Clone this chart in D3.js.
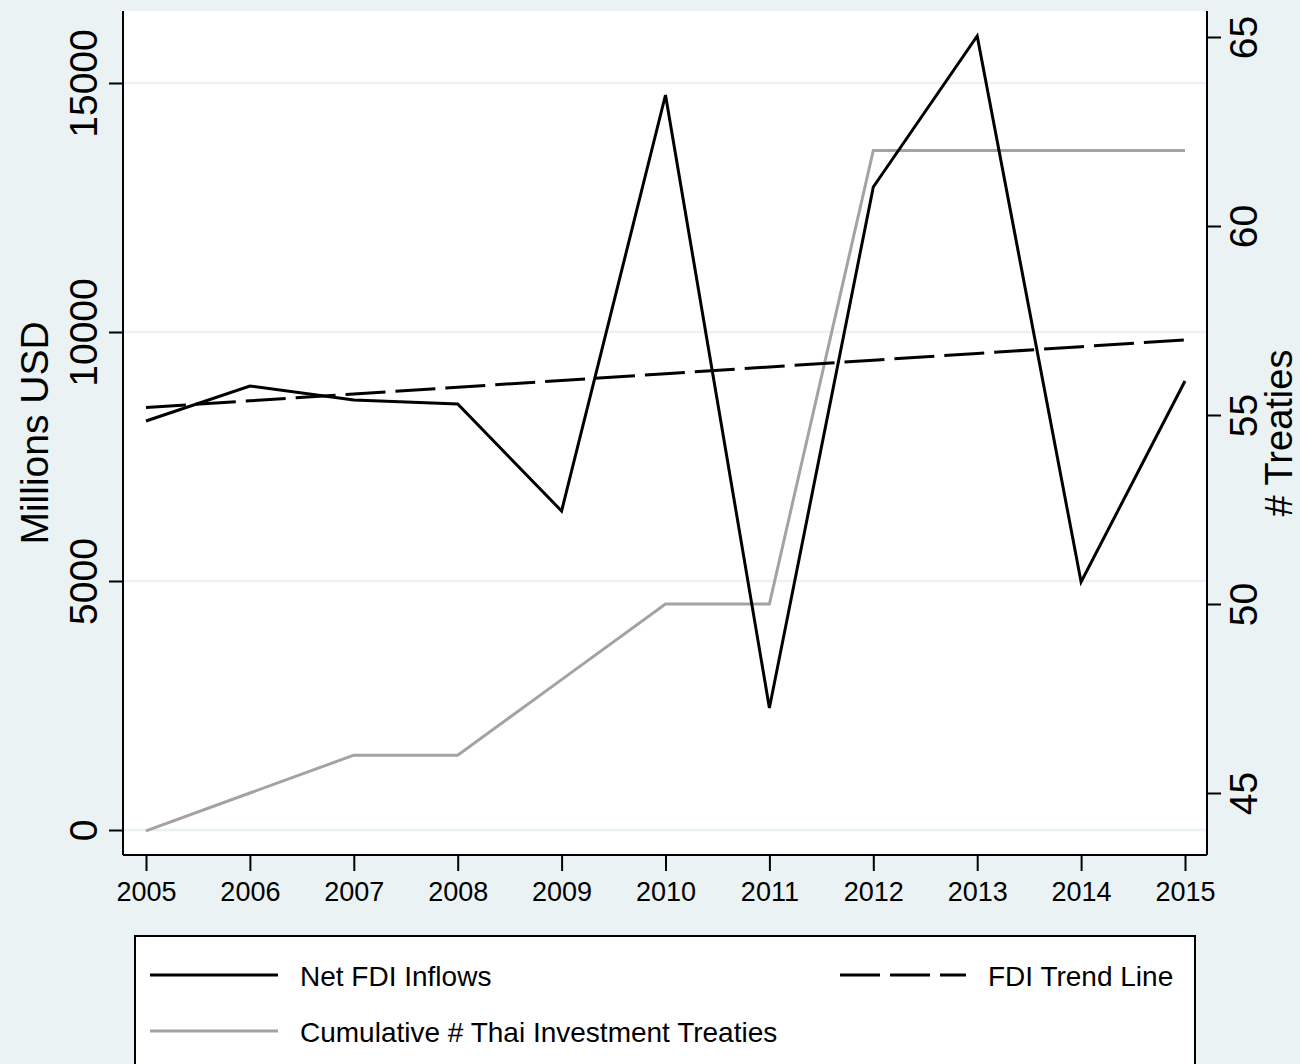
<!DOCTYPE html>
<html>
<head>
<meta charset="utf-8">
<script src="https://cdn.jsdelivr.net/npm/d3@7"></script>
<style>
  html, body { margin: 0; padding: 0; background: #eaf2f3; }
  svg { display: block; }
  text { font-family: "Liberation Sans", Arial, Helvetica, sans-serif; fill: #000; }
</style>
</head>
<body>
<svg id="chart" width="1300" height="1064"></svg>
<script>
// Thailand: net FDI inflows (millions USD) and cumulative investment treaties
const years = [2005, 2006, 2007, 2008, 2009, 2010, 2011, 2012, 2013, 2014, 2015];
const fdiInflows = [8213, 8916, 8635, 8554, 6406, 14759, 2450, 12912, 15944, 4980, 9016];
const treaties = [44, 45, 46, 46, 48, 50, 50, 62, 62, 62, 62];

const leftTicks = [0, 5000, 10000, 15000];
const rightTicks = [45, 50, 55, 60, 65];

const legendLabels = {
  fdi: "Net FDI Inflows",
  trend: "FDI Trend Line",
  treaties: "Cumulative # Thai Investment Treaties"
};

// Least-squares trend of FDI on year
const meanX = d3.mean(years), meanY = d3.mean(fdiInflows);
const slope = d3.sum(years, (x, i) => (x - meanX) * (fdiInflows[i] - meanY)) /
              d3.sum(years, x => (x - meanX) ** 2);
const trend = years.map(x => meanY + slope * (x - meanX));

const svg = d3.select("#chart");
const plot = { left: 123, right: 1207, top: 11, bottom: 855 };

const x = d3.scaleLinear().domain([2005, 2015]).range([146, 1185]);
const yL = d3.scaleLinear().domain([0, 15000]).range([830, 83]);
const yR = d3.scaleLinear().domain([45, 65]).range([793, 37]);

// Plot region
svg.append("rect")
  .attr("x", plot.left).attr("y", plot.top)
  .attr("width", plot.right - plot.left).attr("height", plot.bottom - plot.top)
  .attr("fill", "#fff");

// Grid lines at left-axis ticks
svg.append("g").selectAll("line").data(leftTicks).join("line")
  .attr("x1", plot.left).attr("x2", plot.right)
  .attr("y1", d => yL(d)).attr("y2", d => yL(d))
  .attr("stroke", "#eaf2f3").attr("stroke-width", 2.5);

// Axes
const axisStyle = g => {
  g.select(".domain").attr("stroke", "#000").attr("stroke-width", 2);
  g.selectAll(".tick line").attr("stroke", "#000").attr("stroke-width", 2);
  g.selectAll("text").attr("fill", "#000").style("font-family", "'Liberation Sans', Arial, sans-serif");
};

svg.append("g")
  .attr("transform", `translate(0,${plot.bottom})`)
  .call(d3.axisBottom(x).tickValues(years).tickFormat(d3.format("d"))
    .tickSize(16).tickPadding(6).tickSizeOuter(0))
  .call(g => g.select(".domain").attr("d", `M${plot.left},0H${plot.right}`))
  .call(axisStyle)
  .call(g => g.selectAll("text").attr("font-size", 27).attr("dy", "0.9em"));

svg.append("g")
  .attr("transform", `translate(${plot.left},0)`)
  .call(d3.axisLeft(yL).tickValues(leftTicks).tickFormat(d3.format("d"))
    .tickSize(14).tickPadding(0).tickSizeOuter(0))
  .call(g => g.select(".domain").attr("d", `M0,${plot.top}V${plot.bottom}`))
  .call(axisStyle)
  .call(g => g.selectAll("text")
    .attr("font-size", 39)
    .attr("x", 0).attr("dy", 0)
    .attr("text-anchor", "middle")
    .attr("transform", "translate(-26,0) rotate(-90)"));

svg.append("g")
  .attr("transform", `translate(${plot.right},0)`)
  .call(d3.axisRight(yR).tickValues(rightTicks).tickFormat(d3.format("d"))
    .tickSize(14).tickPadding(0).tickSizeOuter(0))
  .call(g => g.select(".domain").attr("d", `M0,${plot.top}V${plot.bottom}`))
  .call(axisStyle)
  .call(g => g.selectAll("text")
    .attr("font-size", 39)
    .attr("x", 0).attr("dy", 0)
    .attr("text-anchor", "middle")
    .attr("transform", "translate(50,0) rotate(-90)"));

// Axis titles
svg.append("text")
  .attr("transform", "translate(48,433) rotate(-90)")
  .attr("text-anchor", "middle").attr("font-size", 39)
  .text("Millions USD");
svg.append("text")
  .attr("transform", "translate(1292,433) rotate(-90)")
  .attr("text-anchor", "middle").attr("font-size", 38)
  .text("# Treaties");

// Series
const lineL = d3.line().x((d, i) => x(years[i])).y(d => yL(d));
const lineR = d3.line().x((d, i) => x(years[i])).y(d => yR(d));

svg.append("path").datum(treaties)
  .attr("d", lineR).attr("fill", "none")
  .attr("stroke", "#a3a3a3").attr("stroke-width", 3)
  .attr("stroke-linejoin", "miter");

svg.append("path").datum(fdiInflows)
  .attr("d", lineL).attr("fill", "none")
  .attr("stroke", "#000").attr("stroke-width", 3)
  .attr("stroke-linejoin", "miter");

svg.append("path").datum(trend)
  .attr("d", lineL).attr("fill", "none")
  .attr("stroke", "#000").attr("stroke-width", 3)
  .attr("stroke-dasharray", "40 10");

// Legend
const lg = svg.append("g");
lg.append("rect")
  .attr("x", 135).attr("y", 936).attr("width", 1060).attr("height", 160)
  .attr("fill", "#fff").attr("stroke", "#000").attr("stroke-width", 2);

const legendItems = [
  { key: "fdi", x1: 150, x2: 278, y: 975, color: "#000", dash: null },
  { key: "trend", x1: 840, x2: 966, y: 975, color: "#000", dash: "40 10" },
  { key: "treaties", x1: 150, x2: 278, y: 1031, color: "#a3a3a3", dash: null }
];
legendItems.forEach(it => {
  lg.append("line")
    .attr("x1", it.x1).attr("x2", it.x2).attr("y1", it.y).attr("y2", it.y)
    .attr("stroke", it.color).attr("stroke-width", 3)
    .attr("stroke-dasharray", it.dash);
  lg.append("text")
    .attr("x", it.x2 + 22).attr("y", it.y + 11)
    .attr("font-size", 28)
    .text(legendLabels[it.key]);
});
</script>
</body>
</html>
